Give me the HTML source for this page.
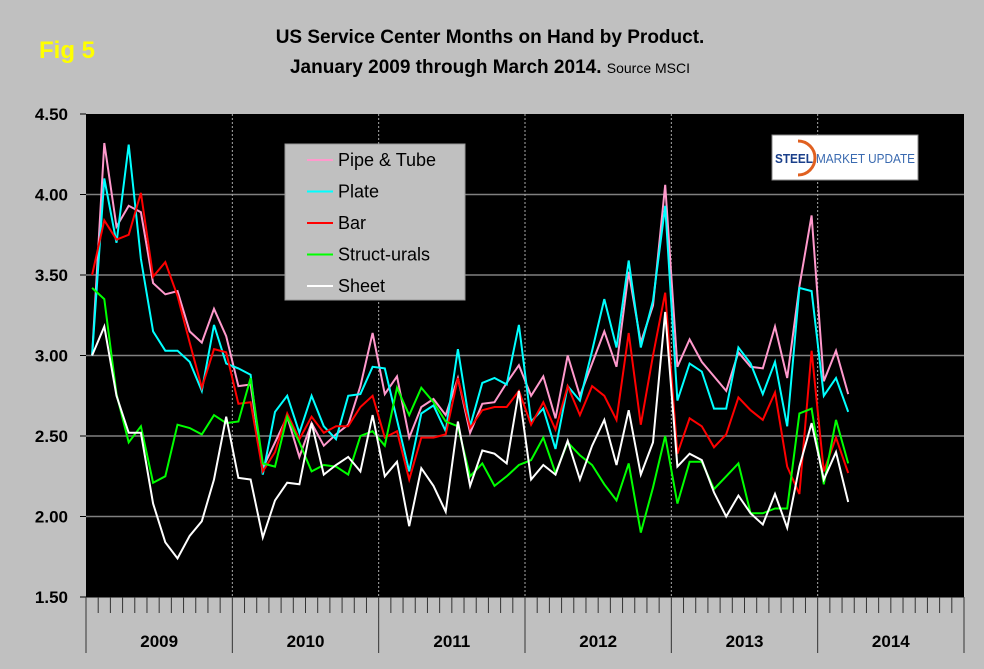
<!DOCTYPE html>
<html><head><meta charset="utf-8"><style>
html,body{margin:0;padding:0;background:#c0c0c0;}
svg{display:block;font-family:"Liberation Sans",Arial,sans-serif;}
</style></head><body>
<svg id="chart" width="984" height="669" viewBox="0 0 984 669">
<rect x="0" y="0" width="984" height="669" fill="#c0c0c0"/>
<text x="39" y="58" font-size="24" font-weight="bold" fill="#ffff00">Fig 5</text>
<text x="490" y="43" font-size="19" font-weight="bold" text-anchor="middle" fill="#000">US Service Center Months on Hand by Product.</text>
<text x="490" y="73" font-size="19" font-weight="bold" text-anchor="middle" fill="#000">January 2009 through March 2014. <tspan font-size="14" font-weight="normal">Source MSCI</tspan></text>
<rect x="86" y="114" width="878" height="483" fill="#000"/>
<g id="grid"></g>
<g id="series"></g>
<g>
<rect x="285" y="144" width="180" height="156" fill="#c0c0c0" stroke="#999"/>
<g id="legend"></g>
</g>
<g>
<rect x="772" y="135" width="146" height="45" fill="#fff" stroke="#888"/>
<path d="M798 141 A16 16 0 1 1 798 175" fill="none" stroke="#e06020" stroke-width="3"/>
<text x="775" y="163" font-size="12.5" font-weight="bold" fill="#1a3f8a" textLength="140" lengthAdjust="spacingAndGlyphs">STEEL <tspan font-weight="normal" fill="#3a6ab0">MARKET UPDATE</tspan></text>
</g>
</svg>
<script>
const yTicks=[4.5,4.0,3.5,3.0,2.5,2.0,1.5];
const yearLabels=["2009","2010","2011","2012","2013","2014"];
const seriesNames=["Pipe & Tube","Plate","Bar","Struct-urals","Sheet"];
const seriesColors=["#ff99cc","#00ffff","#ff0000","#00ff00","#ffffff"];
const pipeTube=[3.0,4.32,3.80,3.93,3.89,3.45,3.38,3.40,3.15,3.08,3.29,3.12,2.81,2.82,2.30,2.46,2.62,2.37,2.58,2.44,2.51,2.57,2.81,3.14,2.76,2.87,2.49,2.68,2.73,2.63,2.86,2.52,2.70,2.71,2.83,2.94,2.75,2.87,2.61,3.00,2.75,2.95,3.15,2.93,3.52,3.08,3.31,4.06,2.93,3.10,2.96,2.87,2.78,3.02,2.93,2.92,3.18,2.86,3.43,3.87,2.84,3.03,2.76];
const plate=[3.0,4.10,3.70,4.31,3.60,3.15,3.03,3.03,2.96,2.78,3.19,2.95,2.92,2.88,2.26,2.65,2.75,2.52,2.75,2.56,2.48,2.75,2.76,2.93,2.92,2.60,2.28,2.64,2.69,2.53,3.04,2.56,2.83,2.86,2.82,3.19,2.59,2.67,2.42,2.81,2.72,3.03,3.35,3.05,3.59,3.05,3.34,3.93,2.72,2.95,2.90,2.67,2.67,3.05,2.95,2.76,2.96,2.56,3.42,3.40,2.75,2.86,2.65];
const bar=[3.50,3.84,3.72,3.75,4.01,3.49,3.58,3.37,3.08,2.80,3.04,3.02,2.70,2.71,2.28,2.40,2.64,2.48,2.62,2.52,2.56,2.56,2.68,2.75,2.49,2.53,2.23,2.49,2.49,2.51,2.86,2.55,2.66,2.68,2.68,2.78,2.57,2.71,2.54,2.81,2.63,2.81,2.75,2.60,3.14,2.57,3.00,3.39,2.39,2.61,2.56,2.43,2.51,2.74,2.66,2.60,2.77,2.31,2.14,3.03,2.28,2.49,2.27];
const structurals=[3.42,3.35,2.76,2.46,2.56,2.21,2.25,2.57,2.55,2.51,2.63,2.58,2.59,2.86,2.33,2.31,2.62,2.46,2.28,2.32,2.31,2.26,2.50,2.53,2.44,2.80,2.63,2.80,2.71,2.59,2.56,2.25,2.33,2.19,2.25,2.32,2.35,2.49,2.27,2.46,2.38,2.32,2.20,2.10,2.33,1.90,2.18,2.50,2.08,2.34,2.34,2.17,2.25,2.33,2.02,2.02,2.05,2.05,2.64,2.67,2.20,2.60,2.33];
const sheet=[3.0,3.18,2.75,2.52,2.52,2.08,1.84,1.74,1.88,1.97,2.23,2.62,2.24,2.23,1.87,2.10,2.21,2.20,2.58,2.26,2.32,2.37,2.28,2.63,2.25,2.34,1.94,2.30,2.19,2.03,2.59,2.19,2.41,2.39,2.33,2.78,2.23,2.32,2.26,2.47,2.23,2.44,2.60,2.32,2.66,2.26,2.46,3.27,2.31,2.39,2.35,2.15,2.00,2.13,2.02,1.95,2.14,1.93,2.31,2.58,2.23,2.40,2.09];
const allSeries=[pipeTube,plate,bar,structurals,sheet];

const NS="http://www.w3.org/2000/svg";
const L=86,R=964,T=114,B=597,yMin=1.5,yMax=4.5,nCat=72;
const cw=(R-L)/nCat;
function xPos(i){return L+cw*(i+0.5);}
function yPos(v){return B-(v-yMin)/(yMax-yMin)*(B-T);}
function mk(tag,attrs,parent){const e=document.createElementNS(NS,tag);for(const k in attrs)e.setAttribute(k,attrs[k]);parent.appendChild(e);return e;}
const grid=document.getElementById('grid');
yTicks.forEach(v=>{
  const y=yPos(v);
  if(v>yMin&&v<yMax){const g=mk('line',{x1:L,x2:R,y1:y,y2:y,stroke:'#808080','stroke-width':1.5},grid);
  
  }
  const tk=mk('line',{x1:L-6,x2:L,y1:y,y2:y,stroke:'#000'},grid);
  
  
  const t=mk('text',{x:68,y:y+6,'text-anchor':'end','font-size':17,'font-weight':'bold',fill:'#000'},grid);
  t.textContent=v.toFixed(2);
  
  
});
mk('line',{x1:L,x2:R,y1:B,y2:B,stroke:'#000'},grid);
for(let i=0;i<=nCat;i++){
  const x=L+cw*i;
  const yr=(i%12===0);
  const tk=mk('line',{x1:x,x2:x,y1:B,y2:yr?653:613,stroke:'#333','stroke-width':1},grid);
  
  
  if(yr&&i>0&&i<nCat){const d=mk('line',{x1:x,x2:x,y1:T,y2:B,stroke:'#aaa','stroke-dasharray':'2,2'},grid);
  
  }
}
yearLabels.forEach((lab,k)=>{
  const t=mk('text',{x:L+cw*(12*k+6),y:647,'text-anchor':'middle','font-size':17,'font-weight':'bold',fill:'#000'},grid);
  t.textContent=lab;
  
  
});
const sg=document.getElementById('series');
allSeries.forEach((s,k)=>{
  const pts=s.map((v,i)=>xPos(i).toFixed(1)+','+yPos(v).toFixed(1)).join(' ');
  const p=mk('polyline',{points:pts,fill:'none',stroke:seriesColors[k],'stroke-width':2,'stroke-linejoin':'miter'},sg);
  
  
});
const lg=document.getElementById('legend');
seriesNames.forEach((n,k)=>{
  const y=160+k*31.5;
  const ln=mk('line',{x1:307,x2:333,y1:y,y2:y,stroke:seriesColors[k],'stroke-width':2},lg);
  
  
  const t=mk('text',{x:338,y:y+6,'font-size':18,fill:'#000'},lg);
  t.textContent=n;
  
  
});
</script>
</body></html>
